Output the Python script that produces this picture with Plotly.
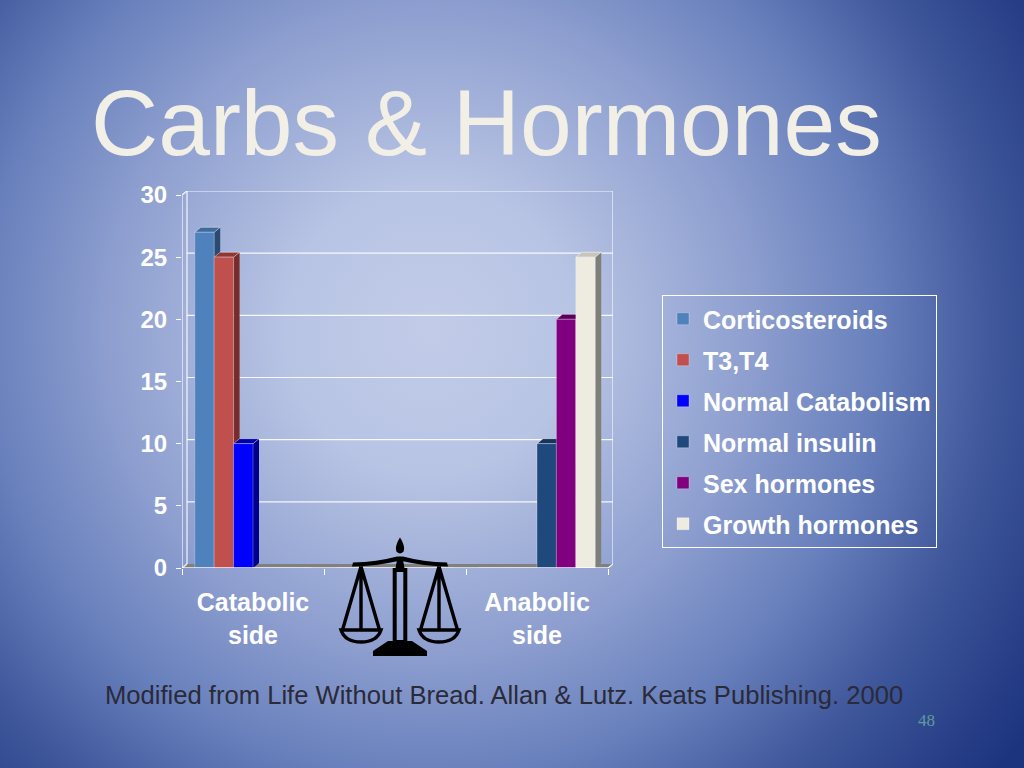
import base64
import plotly.graph_objects as go

# ---------------- data ----------------
categories = ["Catabolic<br>side", " ", "Anabolic<br>side"]
series_names = ["Corticosteroids", "T3,T4", "Normal Catabolism",
                "Normal insulin", "Sex hormones", "Growth hormones"]
corticosteroids = [27, 0, 0]
t3_t4 = [25, 0, 0]
normal_catabolism = [10, 0, 0]
normal_insulin = [0, 0, 10]
sex_hormones = [0, 0, 20]
growth_hormones = [0, 0, 25]
y_ticks = [0, 5, 10, 15, 20, 25, 30]

series_values = [corticosteroids, t3_t4, normal_catabolism,
                 normal_insulin, sex_hormones, growth_hormones]
front_colors = ["#4F81BD", "#C0504D", "#0000FF", "#1F497D", "#800080", "#EEECE1"]
side_colors = ["#2B4A72", "#772C2A", "#00008A", "#10253F", "#430043", "#7F7F7A"]
top_colors = ["#3F6A9C", "#8E3835", "#0000A8", "#17345A", "#5A005A", "#C8C6BC"]

# ---------------- geometry ----------------
W, H = 1024, 768
PL, PR, PT, PB = 182, 613, 191, 568
WALL_DX, WALL_DY = 5, 4       # px depth of back wall
BAR_DX, BAR_DY = 6, 5         # px depth of bars
Y_MAX = 30
unit_py = (PB - 195) / Y_MAX                      # px per y unit
y_top = Y_MAX + WALL_DY / unit_py
cat_px = (PR - PL - WALL_DX) / len(categories)
x_lo = -0.5
x_hi = len(categories) - 0.5 + WALL_DX / cat_px
BARGAP = 0.18

dxw, dyw = WALL_DX / cat_px, WALL_DY / unit_py
dxb, dyb = BAR_DX / cat_px, BAR_DY / unit_py


def xp(px):
    return (px - PL) / (PR - PL)


def yp(py):
    return (PB - py) / (PB - PT)


def pth(cmds, conv=True):
    out = []
    for c in cmds:
        if isinstance(c, str):
            out.append(c)
        else:
            if conv:
                out.append(f"{xp(c[0]):.5f},{yp(c[1]):.5f}")
            else:
                out.append(f"{c[0]:.5f},{c[1]:.5f}")
    return " ".join(out)


# ---------------- background gradient ----------------
svg = f"""<svg xmlns='http://www.w3.org/2000/svg' width='{W}' height='{H}' viewBox='0 0 {W} {H}' preserveAspectRatio='none'>
<defs><radialGradient id='g' gradientUnits='userSpaceOnUse' cx='430' cy='330' r='720'>
<stop offset='0' stop-color='#C2CCE9'/>
<stop offset='0.2' stop-color='#B8C4E4'/>
<stop offset='0.45' stop-color='#8D9ECF'/>
<stop offset='0.62' stop-color='#6880BC'/>
<stop offset='0.8' stop-color='#3C5498'/>
<stop offset='1' stop-color='#1C337E'/>
</radialGradient></defs>
<rect x='0' y='0' width='{W}' height='{H}' fill='url(#g)'/></svg>"""
bg_src = "data:image/svg+xml;base64," + base64.b64encode(svg.encode()).decode()

fig = go.Figure()

n = len(series_names)
bw = (1 - BARGAP) / n
for i, (name, vals) in enumerate(zip(series_names, series_values)):
    fig.add_trace(go.Bar(
        x=categories, y=vals, name=name,
        marker=dict(color=front_colors[i], line=dict(color="rgba(255,255,255,0.45)", width=0.6)),
        legendgroup=name,
    ))

shapes = []
WHITE = "rgba(255,255,255,0.9)"

# floor
shapes.append(dict(type="path", xref="x", yref="y", layer="below",
                   path=pth(["M", (x_lo, 0), "L", (len(categories) - 0.5, 0), "L", (x_hi, dyw),
                             "L", (x_lo + dxw, dyw), "Z"], conv=False),
                   fillcolor="#808080", line=dict(width=0)))
# back wall grid lines
for v in y_ticks[1:]:
    shapes.append(dict(type="line", xref="x", yref="y", layer="below",
                       x0=x_lo + dxw, x1=x_hi, y0=v + dyw, y1=v + dyw,
                       line=dict(color=WHITE, width=1.2)))
# back wall verticals
for xv in (x_lo + dxw, x_hi):
    shapes.append(dict(type="line", xref="x", yref="y", layer="below",
                       x0=xv, x1=xv, y0=dyw, y1=Y_MAX + dyw, line=dict(color=WHITE, width=1.2)))

# 3D faces for bars
for ci in range(len(categories)):
    for i, vals in enumerate(series_values):
        v = vals[ci]
        if v <= 0:
            continue
        xl = ci - (1 - BARGAP) / 2 + i * bw
        xr = xl + bw
        shapes.append(dict(type="path", xref="x", yref="y", layer="below",
                           path=pth(["M", (xr, 0), "L", (xr + dxb, dyb), "L", (xr + dxb, v + dyb),
                                     "L", (xr, v), "Z"], conv=False),
                           fillcolor=side_colors[i], line=dict(width=0)))
        shapes.append(dict(type="path", xref="x", yref="y", layer="below",
                           path=pth(["M", (xl, v), "L", (xl + dxb, v + dyb), "L", (xr + dxb, v + dyb),
                                     "L", (xr, v), "Z"], conv=False),
                           fillcolor=top_colors[i], line=dict(color="rgba(255,255,255,0.6)", width=0.7)))

# front axis lines
nc = len(categories) - 0.5
for (a, b, c, d) in [(x_lo, 0, nc, 0), (nc, 0, nc + dxw, dyw), (x_lo, 0, x_lo, Y_MAX),
                     (x_lo, Y_MAX, x_lo + dxw, Y_MAX + dyw), (x_lo, 0, x_lo + dxw, dyw)]:
    shapes.append(dict(type="line", xref="x", yref="y", layer="above",
                       x0=a, y0=b, x1=c, y1=d, line=dict(color=WHITE, width=1.3)))

# balance scale icon (decoration)
BLK = "#000000"
def fshape(cmds):
    return dict(type="path", xref="paper", yref="paper", layer="above", path=pth(cmds),
                fillcolor=BLK, line=dict(width=0))
def sshape(cmds, w=3.4):
    return dict(type="path", xref="paper", yref="paper", layer="above", path=pth(cmds),
                line=dict(color=BLK, width=w))

shapes.append(fshape(["M", (400, 537.5), "C", (403.5, 543), (405, 548), (403.5, 551.5),
                      "Q", (400, 555.5), (396.5, 551.5), "C", (395, 548), (396.5, 543), (400, 537.5), "Z"]))
shapes.append(fshape(["M", (353, 562.5), "Q", (377, 562), (397, 556.5), "L", (403, 556.5),
                      "Q", (423, 562), (447, 562.5), "L", (448, 566.5), "Q", (423, 566), (402, 561),
                      "L", (398, 561), "Q", (377, 566), (352, 566.5), "Z"]))
shapes.append(fshape(["M", (397.5, 557), "L", (402.5, 557), "L", (405, 571), "L", (395, 571), "Z"]))
shapes.append(sshape(["M", (394.7, 570), "L", (405.3, 570), "L", (405.3, 642), "L", (394.7, 642), "Z"], 4))
shapes.append(fshape(["M", (388, 641), "L", (412, 641), "L", (427, 651), "L", (427, 656),
                      "L", (373, 656), "L", (373, 651), "Z"]))
for cx in (361, 439):
    shapes.append(sshape(["M", (cx, 566.5), "L", (cx - 18.5, 630), "M", (cx, 566.5), "L", (cx + 18.5, 630),
                          "M", (cx, 566.5), "L", (cx, 630)]))
    shapes.append(sshape(["M", (cx - 20, 630), "L", (cx + 20, 630), "Q", (cx + 16, 642), (cx, 642),
                          "Q", (cx - 16, 642), (cx - 20, 630), "Z"], 3.4))

annotations = [
    dict(text="Carbs & Hormones", xref="paper", yref="paper", x=xp(89), y=yp(123),
         xanchor="left", yanchor="middle", showarrow=False,
         font=dict(family="Liberation Sans, Arial, sans-serif", size=93, color="#F1EFE6")),
    dict(text="Modified from Life Without Bread. Allan & Lutz. Keats Publishing. 2000",
         xref="paper", yref="paper", x=xp(504), y=yp(695), xanchor="center", yanchor="middle",
         showarrow=False, font=dict(family="Liberation Sans, Arial, sans-serif", size=25.6, color="#2A2A38")),
    dict(text="48", xref="paper", yref="paper", x=xp(937), y=yp(720), xanchor="right", yanchor="middle",
         showarrow=False, font=dict(family="Liberation Serif, serif", size=17, color="#5F9A9E")),
]

fig.update_layout(
    width=W, height=H,
    margin=dict(l=PL, r=W - PR, t=PT, b=H - PB, pad=0),
    paper_bgcolor="#5A70B0", plot_bgcolor="rgba(0,0,0,0)",
    barmode="group", bargap=BARGAP, bargroupgap=0,
    showlegend=True,
    legend=dict(x=xp(662), y=yp(295), xanchor="left", yanchor="top",
                bgcolor="rgba(0,0,0,0)", bordercolor="#FFFFFF", borderwidth=1,
                font=dict(family="Liberation Sans, Arial, sans-serif", size=25, color="#FFFFFF", weight="bold"),
                tracegroupgap=5.5, traceorder="grouped"),
    xaxis=dict(type="category", range=[x_lo, x_hi], showgrid=False, zeroline=False, showline=False,
               ticks="outside", tickson="boundaries", ticklen=6, tickcolor="#FFFFFF", tickwidth=1.3,
               ticklabelstandoff=17,
               tickfont=dict(family="Liberation Sans, Arial, sans-serif", size=25, color="#FFFFFF", weight="bold"),
               fixedrange=True),
    yaxis=dict(range=[0, y_top], tickvals=y_ticks, showgrid=False, zeroline=False, showline=False,
               ticks="outside", ticklen=5, tickcolor="#FFFFFF", tickwidth=1.3, ticklabelstandoff=4,
               tickfont=dict(family="Liberation Sans, Arial, sans-serif", size=24, color="#FFFFFF", weight="bold"),
               fixedrange=True),
    shapes=shapes,
    annotations=annotations,
    images=[dict(source=bg_src, xref="paper", yref="paper", x=xp(0), y=yp(0),
                 sizex=W / (PR - PL), sizey=H / (PB - PT), xanchor="left", yanchor="top",
                 sizing="stretch", layer="below")],
)

fig.write_html("out.html", config={"displayModeBar": False},
               post_script="document.body.style.margin='0';document.body.style.overflow='hidden';")
